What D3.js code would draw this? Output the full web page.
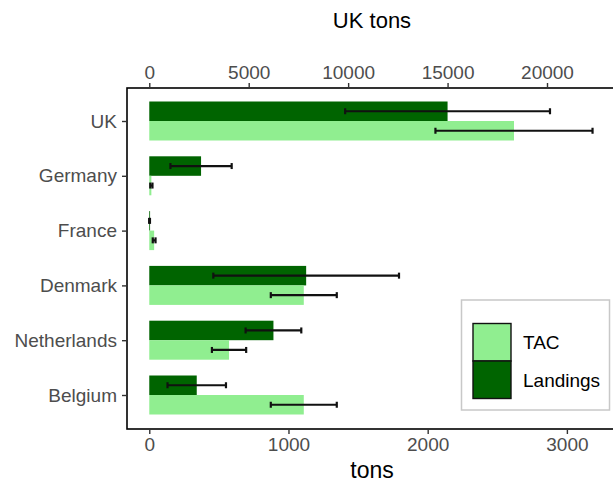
<!DOCTYPE html>
<html>
<head>
<meta charset="utf-8">
<script src="https://cdn.jsdelivr.net/npm/d3@7"></script>
<style>
  body { margin: 0; background: #fff; }
  svg { font-family: "Liberation Sans", Arial, sans-serif; }
</style>
</head>
<body>
<svg id="chart" width="613" height="484"></svg>
<script>
// countries top to bottom
var countries = ["UK", "Germany", "France", "Denmark", "Netherlands", "Belgium"];
// UK is read on the top axis (UK tons), the others on the bottom axis (tons)
var landings    = [15000, 372, 2, 1127, 892, 341];
var landingsErr = [5150, 220, 3, 667, 200, 210];
var tac         = [18340, 15, 35, 1110, 573, 1110];
var tacErr      = [3950, 8, 10, 237, 123, 237];
var bottomTicks = [0, 1000, 2000, 3000];
var topTicks = [0, 5000, 10000, 15000, 20000];
var seriesNames = ["TAC", "Landings"];
var seriesColors = ["#90ee90", "#006400"];

(function (d3) {
    var svg = d3.select("#chart");
    var panel = { left: 127, right: 617, top: 88, bottom: 429 };

    /***** Scales *****/
    var x = d3.scaleLinear().domain([-160, 3360]).range([panel.left, panel.right]);
    var xTop = d3.scaleLinear().domain([-160 * 7, 3360 * 7]).range([panel.left, panel.right]);
    var y = d3.scalePoint().domain(countries).range([121, 395]);
    var barH = 19.5;
    var scaleFor = function (c) { return c === "UK" ? xTop : x; };

    var rows = countries.map(function (c, i) {
        return { c: c, landings: landings[i], landingsErr: landingsErr[i], tac: tac[i], tacErr: tacErr[i] };
    });

    /***** Bars *****/
    var g = svg.append("g");
    g.selectAll("rect.land").data(rows).enter().append("rect")
        .attr("x", function (d) { return scaleFor(d.c)(0); })
        .attr("y", function (d) { return y(d.c) - barH; })
        .attr("width", function (d) { return Math.max(0.8, scaleFor(d.c)(d.landings) - scaleFor(d.c)(0)); })
        .attr("height", barH)
        .attr("fill", seriesColors[1]);
    g.selectAll("rect.tac").data(rows).enter().append("rect")
        .attr("x", function (d) { return scaleFor(d.c)(0); })
        .attr("y", function (d) { return y(d.c); })
        .attr("width", function (d) { return scaleFor(d.c)(d.tac) - scaleFor(d.c)(0); })
        .attr("height", barH)
        .attr("fill", seriesColors[0]);

    /***** Error bars *****/
    function errorBars(key, errKey, offset) {
        var eg = g.selectAll("g." + key).data(rows).enter().append("g")
            .attr("stroke", "#111").attr("stroke-width", 2.2);
        eg.append("line")
            .attr("x1", function (d) { return scaleFor(d.c)(d[key] - d[errKey]); })
            .attr("x2", function (d) { return scaleFor(d.c)(d[key] + d[errKey]); })
            .attr("y1", function (d) { return y(d.c) + offset; })
            .attr("y2", function (d) { return y(d.c) + offset; });
        [-1, 1].forEach(function (s) {
            eg.append("line")
                .attr("x1", function (d) { return scaleFor(d.c)(d[key] + s * d[errKey]); })
                .attr("x2", function (d) { return scaleFor(d.c)(d[key] + s * d[errKey]); })
                .attr("y1", function (d) { return y(d.c) + offset - 3; })
                .attr("y2", function (d) { return y(d.c) + offset + 3; });
        });
    }
    errorBars("landings", "landingsErr", -barH / 2);
    errorBars("tac", "tacErr", barH / 2);

    /***** Panel border *****/
    svg.append("rect")
        .attr("x", panel.left).attr("y", panel.top)
        .attr("width", panel.right - panel.left).attr("height", panel.bottom - panel.top)
        .attr("fill", "none").attr("stroke", "#000").attr("stroke-width", 1.6);

    /***** Axes *****/
    function styleAxis(sel) {
        sel.select(".domain").remove();
        sel.selectAll(".tick line").attr("stroke", "#333").attr("stroke-width", 1.4);
        sel.selectAll(".tick text").attr("fill", "#4d4d4d").style("font-size", "19px");
    }
    var bottomAxis = svg.append("g").attr("transform", "translate(0," + panel.bottom + ")")
        .call(d3.axisBottom(x).tickValues(bottomTicks).tickSize(5).tickPadding(4).tickFormat(d3.format("d")));
    styleAxis(bottomAxis);
    var topAxis = svg.append("g").attr("transform", "translate(0," + panel.top + ")")
        .call(d3.axisTop(xTop).tickValues(topTicks).tickSize(5).tickPadding(4).tickFormat(d3.format("d")));
    styleAxis(topAxis);
    var leftAxis = svg.append("g").attr("transform", "translate(" + panel.left + ",0)")
        .call(d3.axisLeft(y).tickSize(5).tickPadding(5));
    styleAxis(leftAxis);

    svg.append("text").attr("x", 372).attr("y", 28).attr("text-anchor", "middle")
        .style("font-size", "22px").attr("fill", "#000").text("UK tons");
    svg.append("text").attr("x", 372).attr("y", 478).attr("text-anchor", "middle")
        .style("font-size", "23px").attr("fill", "#000").text("tons");

    /***** Legend *****/
    var lg = svg.append("g");
    lg.append("rect").attr("x", 461.5).attr("y", 300).attr("width", 148).attr("height", 110)
        .attr("fill", "#fff").attr("stroke", "#c8c8c8").attr("stroke-width", 1.5);
    seriesNames.forEach(function (name, i) {
        lg.append("rect").attr("x", 473).attr("y", 323.5 + i * 37.5).attr("width", 38).attr("height", 37.5)
            .attr("fill", seriesColors[i]).attr("stroke", "#111").attr("stroke-width", 1.4);
        lg.append("text").attr("x", 523).attr("y", 342.5 + i * 37.5).attr("dy", "0.35em")
            .style("font-size", "19px").attr("fill", "#000").text(name);
    });
})(d3);
</script>
</body>
</html>
